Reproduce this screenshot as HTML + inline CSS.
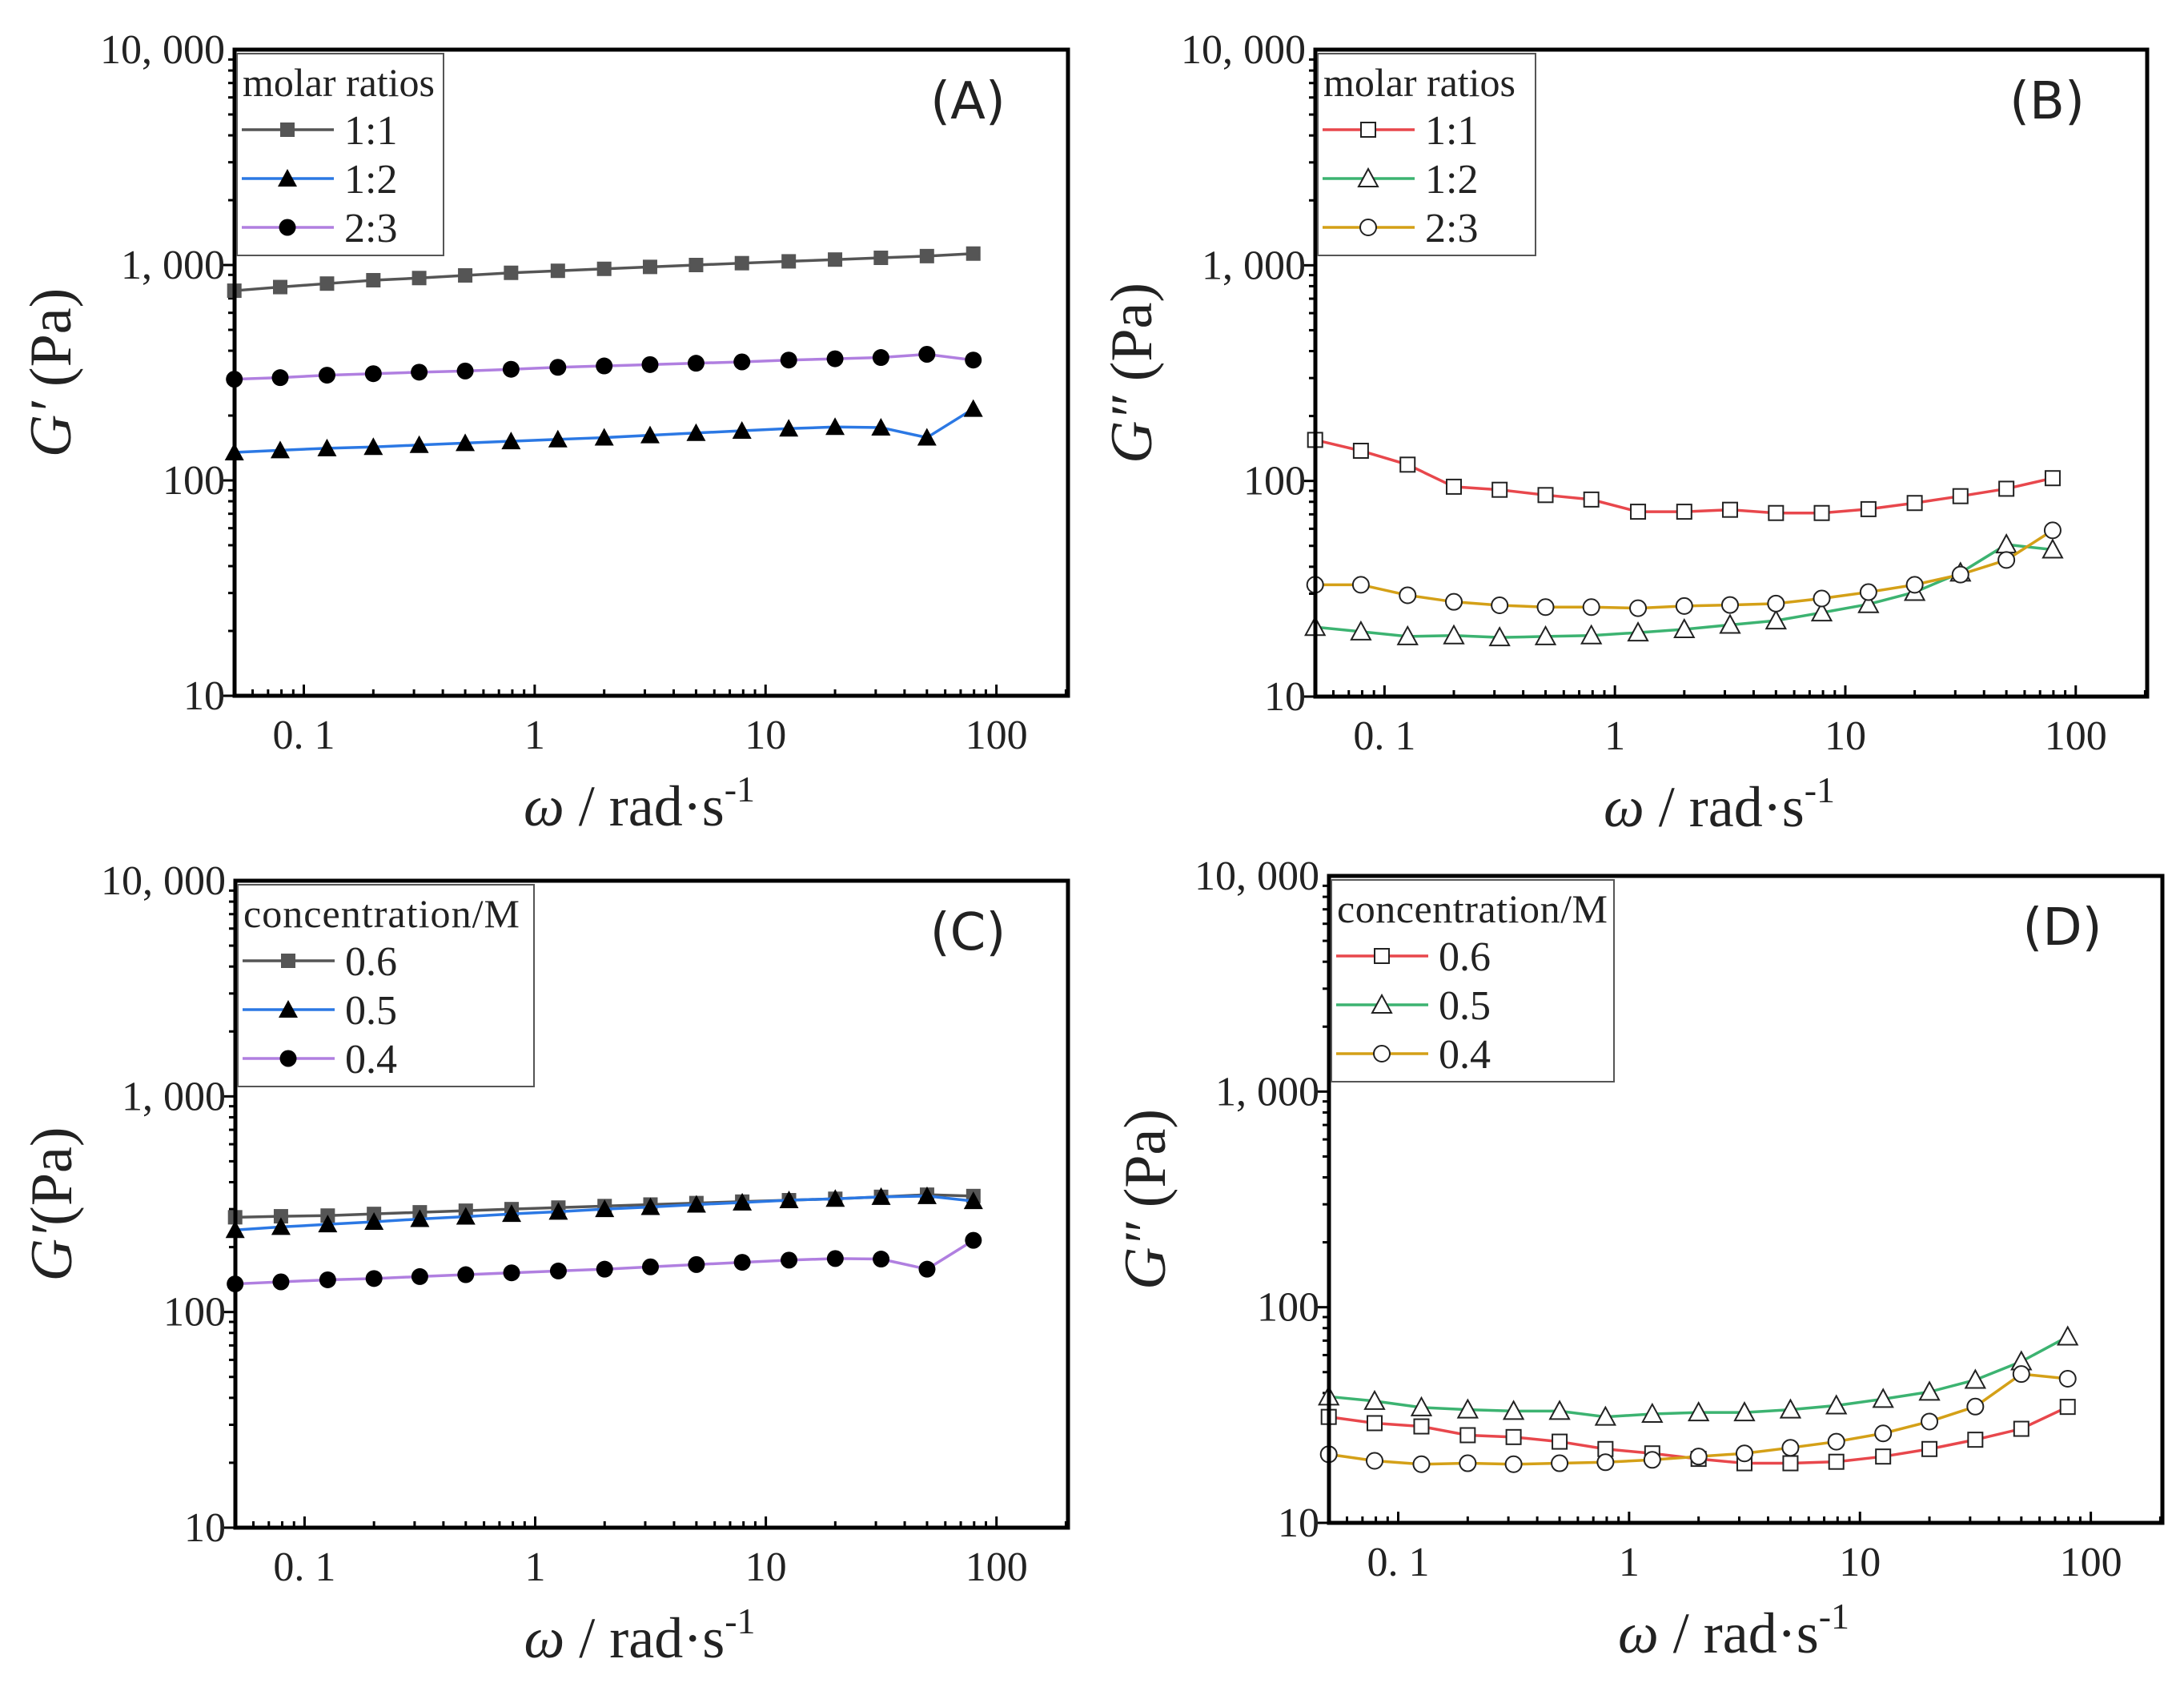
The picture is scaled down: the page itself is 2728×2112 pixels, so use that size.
<!DOCTYPE html>
<html><head><meta charset="utf-8">
<style>
html,body{margin:0;padding:0;background:#fff;}
svg{display:block;}
</style></head>
<body>
<svg id="fig" width="2728" height="2112" viewBox="0 0 2728 2112" xmlns="http://www.w3.org/2000/svg"></svg>
<script>
// ---- data ----
const omega = [0.05,0.079,0.126,0.2,0.316,0.5,0.79,1.26,2,3.16,5,7.9,12.6,20,31.6,50,79.4];
const yTickValues = [10,100,1000,10000];
const yTickLabels = ["10","100","1, 000","10, 000"];
const xTickValues = [0.1,1,10,100];
const xTickLabels = ["0. 1","1","10","100"];

const A_11 = [760,790,820,850,870,895,920,940,960,980,1000,1020,1040,1060,1080,1100,1130];
const A_12 = [135,138,141,143,146,149,152,155,158,162,166,170,174,177,176,158,215];
const A_23 = [295,300,308,313,318,322,328,335,340,345,350,355,362,367,372,385,362];

const B_11 = [155,138,119,94,91,86,82,72,72,73.5,71,71,74,79,85,92,103];
const B_12 = [21,20,19,19.2,18.8,19,19.2,19.8,20.5,21.5,22.5,24.5,26.8,30.5,37.5,50.7,48];
const B_23 = [33,33,29.5,27.5,26.5,26,26,25.7,26.3,26.6,27,28.5,30.5,33,36.8,43,59];

const C_06 = [275,278,280,285,290,295,300,305,310,315,320,325,330,335,342,350,345];
const C_05 = [240,248,255,262,270,277,285,292,300,307,315,322,330,335,342,345,327];
const C_04 = [135,138,141,143,146,149,152,155,158,162,166,170,174,177,176,158,215];

const D_06 = [31,29,28,25.5,25,23.8,22,21,19.8,18.9,18.9,19.2,20.3,22,24.3,27.3,34.5];
const D_05 = [38.5,36.7,34.3,33.5,33,33,31,32,32.5,32.5,33.5,35,37.5,40.5,46,56,73];
const D_04 = [20.8,19.4,18.7,18.9,18.7,18.9,19.1,19.6,20.3,21,22.3,23.8,26,29.5,34.6,49,46.6];

// ---- drawing ----
const NS="http://www.w3.org/2000/svg";
const svg=document.getElementById('fig');
function mk(tag,attrs,parent){const e=document.createElementNS(NS,tag);for(const k in attrs)e.setAttribute(k,attrs[k]);(parent||svg).appendChild(e);return e;}

const XMIN=-1.30, XMAX=2.31, YMIN=1, YMAX=4;

function marker(g,type,cx,cy,filled,fillCol){
  let m;
  const stroke=filled?'none':'#222';
  const fill=filled?fillCol:'#fff';
  if(type==='square'){m=mk('rect',{x:cx-9,y:cy-9,width:18,height:18,fill:fill,stroke:stroke,'stroke-width':2},g);}
  else if(type==='triangle'){m=mk('polygon',{points:`${cx},${cy-12} ${cx-12},${cy+10} ${cx+12},${cy+10}`,fill:fill,stroke:stroke,'stroke-width':2},g);}
  else {m=mk('circle',{cx:cx,cy:cy,r:filled?10.5:10,fill:fill,stroke:stroke,'stroke-width':2},g);}
  return m;
}

function panel(p){
  const g=mk('g',{});
  
  
  const L=p.L,T=p.T,R=p.R,B=p.B;
  const sx=v=>L+(Math.log10(v)-XMIN)/(XMAX-XMIN)*(R-L);
  const sy=v=>B-(Math.log10(v)-YMIN)/(YMAX-YMIN)*(B-T);
  for(let d=1;d<4;d++){for(let k=1;k<10;k++){const v=k*Math.pow(10,d);const y=sy(v);
    const len=k===1?14:8;
    const t=mk('line',{x1:L-len,x2:L,y1:y,y2:y,stroke:'#000','stroke-width':3},g);
    }}
  for(let d=-2;d<3;d++){for(let k=1;k<10;k++){const v=k*Math.pow(10,d);const lv=Math.log10(v);
    if(lv<XMIN||lv>XMAX)continue;const x=sx(v);const len=k===1?14:8;
    const t=mk('line',{x1:x,x2:x,y1:B-len,y2:B,stroke:'#000','stroke-width':3},g);
    }}
  yTickValues.forEach((v,i)=>{const t=mk('text',{x:L-12,y:sy(v)+17,'text-anchor':'end','font-family':'Liberation Serif, serif','font-size':52,fill:'#222'},g);t.textContent=yTickLabels[i];
    });
  xTickValues.forEach((v,i)=>{const t=mk('text',{x:sx(v),y:B+66,'text-anchor':'middle','font-family':'Liberation Serif, serif','font-size':52,fill:'#222'},g);t.textContent=xTickLabels[i];
    });
  p.series.forEach(s=>{
    const sg=mk('g',{},g);
    
    
    const pts=omega.map((w,i)=>sx(w)+','+sy(s.data[i])).join(' ');
    const pl=mk('polyline',{points:pts,fill:'none',stroke:s.color,'stroke-width':3.5},sg);
    
    omega.forEach((w,i)=>{const m=marker(sg,s.marker,sx(w),sy(s.data[i]),p.filled,s.mfill);
      });
  });
  const fr=mk('rect',{x:L,y:T,width:R-L,height:B-T,fill:'none',stroke:'#000','stroke-width':5},g);
  
  const lg=mk('g',{},g);
  
  const lb=mk('rect',{x:L+3,y:T+5,width:p.legW,height:252,fill:'#fff',stroke:'#555','stroke-width':2},lg);
  
  const lt=mk('text',{x:L+10,y:T+58,'font-family':'Liberation Serif, serif','font-size':50,fill:'#222'},lg);
  lt.textContent=p.legTitle;
  if(p.legTitleLen) lt.setAttribute('textLength',p.legTitleLen);
  p.series.forEach((s,i)=>{
    const cy=T+100+i*61;
    const le=mk('g',{},lg);
    
    mk('line',{x1:L+9,x2:L+124,y1:cy,y2:cy,stroke:s.color,'stroke-width':3.5},le);
    marker(le,s.marker,L+66,cy,p.filled,s.mfill);
    const t=mk('text',{x:L+137,y:cy+18,'font-family':'Liberation Serif, serif','font-size':52,fill:'#222'},le);
    t.textContent=s.label;
  });
  const pl=mk('text',{x:R-125,y:T+86,'text-anchor':'middle','font-family':'DejaVu Sans, Liberation Sans, sans-serif','font-size':64,fill:'#222'},g);
  pl.textContent=p.tag;
  const yt=mk('text',{x:0,y:0,'text-anchor':'middle','font-family':'Liberation Serif, serif','font-size':74,fill:'#222',transform:`translate(${L-205},${(T+B)/2}) rotate(-90)`},g);
  yt.innerHTML=p.ytitle;
  const xt=mk('text',{x:(L+R)/2-15,y:B+162,'text-anchor':'middle','font-family':'Liberation Serif, serif','font-size':72,fill:'#222'},g);
  xt.innerHTML='<tspan font-style="italic">ω</tspan> / rad·s<tspan dy="-30" font-size="46">-1</tspan>';
  
}

const gp="<tspan font-style='italic'>G′</tspan> (Pa)";
const gpp="<tspan font-style='italic'>G″</tspan> (Pa)";
panel({name:'panel-a',tag:'(A)',L:293,T:62,R:1334,B:869,legW:258,legTitle:'molar ratios',legTitleLen:240,filled:true,ytitle:gp,
  series:[{label:'1:1',data:A_11,color:'#555',marker:'square',mfill:'#555'},
          {label:'1:2',data:A_12,color:'#2b78e4',marker:'triangle',mfill:'#000'},
          {label:'2:3',data:A_23,color:'#b07fe0',marker:'circle',mfill:'#000'}]});
panel({name:'panel-b',tag:'(B)',L:1643,T:62,R:2682,B:870,legW:272,legTitle:'molar ratios',legTitleLen:240,filled:false,ytitle:gpp,
  series:[{label:'1:1',data:B_11,color:'#e8474c',marker:'square'},
          {label:'1:2',data:B_12,color:'#3cb371',marker:'triangle'},
          {label:'2:3',data:B_23,color:'#d4a017',marker:'circle'}]});
panel({name:'panel-c',tag:'(C)',L:294,T:1100,R:1334,B:1908,legW:370,legTitle:'concentration/M',legTitleLen:345,filled:true,ytitle:"<tspan font-style='italic'>G′</tspan>(Pa)",
  series:[{label:'0.6',data:C_06,color:'#555',marker:'square',mfill:'#555'},
          {label:'0.5',data:C_05,color:'#2b78e4',marker:'triangle',mfill:'#000'},
          {label:'0.4',data:C_04,color:'#b07fe0',marker:'circle',mfill:'#000'}]});
panel({name:'panel-d',tag:'(D)',L:1660,T:1094,R:2701,B:1902,legW:353,legTitle:'concentration/M',legTitleLen:338,filled:false,ytitle:gpp,
  series:[{label:'0.6',data:D_06,color:'#e8474c',marker:'square'},
          {label:'0.5',data:D_05,color:'#3cb371',marker:'triangle'},
          {label:'0.4',data:D_04,color:'#d4a017',marker:'circle'}]});
</script>
</body></html>
